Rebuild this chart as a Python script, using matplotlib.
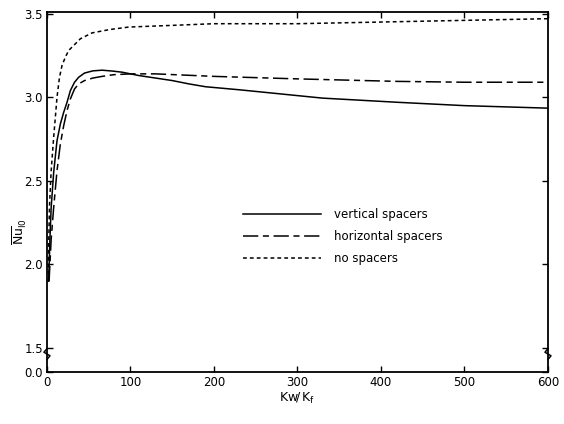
import matplotlib
matplotlib.use("Agg")
import matplotlib.pyplot as plt

# ------------------------------------------------------------------
# data
# ------------------------------------------------------------------
vert_x = [2, 3.5, 5, 8, 12, 16, 20, 24, 28, 33, 38, 45, 55, 66, 78, 90,
          110, 130, 150, 170, 190, 230, 270, 330, 420, 500, 600]
vert_y = [1.90, 2.15, 2.34, 2.55, 2.74, 2.84, 2.91, 2.97, 3.04, 3.09, 3.12,
          3.145, 3.158, 3.162, 3.157, 3.15, 3.13, 3.115, 3.10, 3.08, 3.063,
          3.045, 3.025, 2.995, 2.97, 2.95, 2.935]

horiz_x = [2.5, 5, 8, 12, 16, 20, 24, 28, 33, 38, 45, 55, 66, 80, 100, 130,
           200, 300, 420, 500, 600]
horiz_y = [1.90, 2.15, 2.34, 2.56, 2.72, 2.83, 2.92, 2.99, 3.05, 3.08, 3.10,
           3.115, 3.125, 3.135, 3.14, 3.14, 3.125, 3.11, 3.095, 3.09, 3.09]

none_x = [1.5, 2.2, 3, 5, 8, 10, 12, 15, 18, 22, 26, 30, 40, 54, 75, 98,
          150, 200, 300, 400, 500, 600]
none_y = [1.90, 2.15, 2.35, 2.56, 2.76, 2.88, 3.00, 3.12, 3.19, 3.24, 3.28,
          3.30, 3.35, 3.385, 3.405, 3.42, 3.43, 3.44, 3.44, 3.45, 3.46, 3.47]

x_ticks = [0, 100, 200, 300, 400, 500, 600]
y_break = 1.357  # where the broken axis shows "0.0"
y_ticks = [y_break, 1.5, 2.0, 2.5, 3.0, 3.5]
y_labels = ["0.0", "1.5", "2.0", "2.5", "3.0", "3.5"]

fig = plt.figure(figsize=(5.64, 4.24), dpi=100)
ax = fig.add_axes([0.0833, 0.1226, 0.8883, 0.8491])

lw = 1.1
ax.plot(vert_x, vert_y, color="black", lw=lw, label="vertical spacers")
ax.plot(horiz_x, horiz_y, color="black", lw=lw, dashes=(10, 3, 4, 3),
        label="horizontal spacers")
ax.plot(none_x, none_y, color="black", lw=lw, dashes=(2.5, 2),
        label="no spacers")

ax.set_xlim(0, 600)
ax.set_ylim(y_break, 3.51)
ax.set_xticks(x_ticks)
ax.set_yticks(y_ticks)
ax.set_yticklabels(y_labels)
ax.tick_params(direction="in", top=True, right=True, length=4, width=1,
               labelsize=8.5, pad=3)
for s in ax.spines.values():
    s.set_linewidth(1.3)

# broken-axis marks on both sides
for xa in (0.0, 1.0):
    ax.plot([xa, xa + 0.006, xa - 0.006, xa], [0.035, 0.045, 0.055, 0.065],
            transform=ax.transAxes, color="black", lw=1.1, clip_on=False)

ax.set_ylabel(r"$\overline{\mathrm{Nu}}_{\mathrm{l0}}$", fontsize=9)
ax.yaxis.set_label_coords(-0.035, 0.39)
ax.set_xlabel(r"$\mathrm{Kw}\!/\,\mathrm{K_f}$", fontsize=9, labelpad=1)

leg = ax.legend(loc="upper left", bbox_to_anchor=(0.37, 0.485), frameon=False,
                fontsize=8.5, handlelength=6.6, handletextpad=1.1,
                labelspacing=0.75)

fig.savefig("out.png", dpi=100)
